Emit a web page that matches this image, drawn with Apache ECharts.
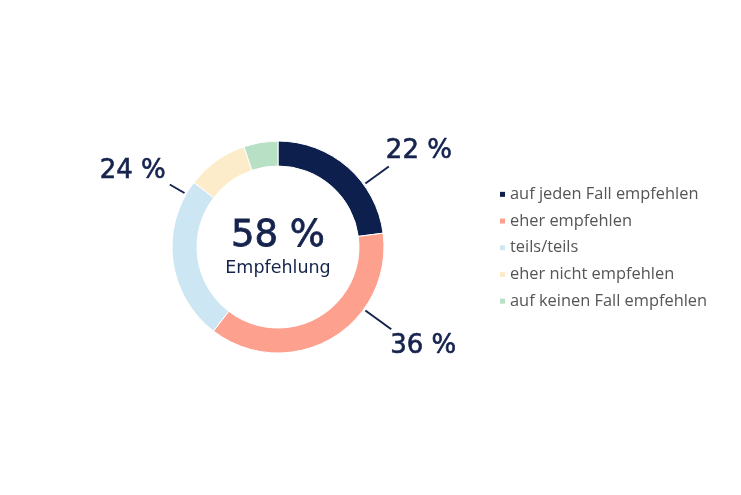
<!DOCTYPE html>
<html>
<head>
<meta charset="utf-8">
<script src="https://cdn.jsdelivr.net/npm/echarts@6/dist/echarts.min.js"></script>
<style>
  html, body {margin: 0; padding: 0; background: #fff;}
  #chart {width: 741px; height: 495px;}
</style>
</head>
<body>
<div id="chart"></div>
<script>
// Antworten (Empfehlung), Werte in %
var categories = ['auf jeden Fall empfehlen', 'eher empfehlen', 'teils/teils', 'eher nicht empfehlen', 'auf keinen Fall empfehlen'];
var values = [22, 36, 24, 9, 5];
var showLabel = [true, true, true, false, false];
var colors = ['#0d1f4c', '#fda08d', '#cce6f3', '#fdecc9', '#b8e0c5'];

var cx = 278, cy = 247, rOuter = 106, rInner = 81;
// Richtung der Beschriftungslinien (Grad im Uhrzeigersinn ab 12 Uhr) und Länge
var leader = [
    {angle: 54, len: 29, align: 'left', vAlign: 'bottom', dx: -3, dy: -2},
    {angle: 126, len: 32, align: 'left', vAlign: 'top', dx: -1, dy: 4},
    {angle: 300, len: 17, align: 'right', vAlign: 'bottom', dx: -4, dy: 0}
];
var textColor = '#15234d';
var font = 'DejaVu Sans';

var chart = echarts.init(document.getElementById('chart'));

var data = [];
for (var i = 0; i < categories.length; i++) {
    data.push({
        name: categories[i],
        value: values[i],
        itemStyle: {color: colors[i]},
        label: {show: showLabel[i]},
        labelLine: {show: showLabel[i]}
    });
}

var option = {
    animation: false,
    title: {
        text: (values[0] + values[1]) + ' %',
        subtext: 'Empfehlung',
        left: cx,
        top: 218,
        padding: 0,
        textAlign: 'center',
        itemGap: 4,
        textStyle: {fontFamily: font, fontSize: 37, fontWeight: 'normal', color: textColor,
            textBorderColor: textColor, textBorderWidth: 0.8},
        subtextStyle: {fontFamily: font, fontSize: 17.5, color: textColor}
    },
    legend: {
        orient: 'vertical',
        left: 495,
        top: 181,
        icon: 'rect',
        itemWidth: 5,
        itemHeight: 5,
        itemGap: 10,
        itemStyle: {borderWidth: 0},
        textStyle: {fontFamily: 'Open Sans', fontSize: 16.4, lineHeight: 16.7, color: '#555'},
        data: categories
    },
    series: [{
        type: 'pie',
        center: [cx, cy],
        radius: [rInner, rOuter],
        startAngle: 90,
        clockwise: true,
        avoidLabelOverlap: false,
        itemStyle: {borderColor: '#fff', borderWidth: 1},
        emphasis: {disabled: true},
        label: {
            formatter: '{c} %',
            fontFamily: font,
            fontSize: 26,
            fontWeight: 'normal',
            color: textColor,
            textBorderColor: textColor,
            textBorderWidth: 0.6
        },
        labelLine: {lineStyle: {color: textColor, width: 2}, length: 10, length2: 0},
        labelLayout: function (params) {
            var l = leader[params.dataIndex];
            if (!l) return {};
            var a = l.angle * Math.PI / 180;
            var sx = cx + (rOuter + 2) * Math.sin(a), sy = cy - (rOuter + 2) * Math.cos(a);
            var ex = cx + (rOuter + 2 + l.len) * Math.sin(a), ey = cy - (rOuter + 2 + l.len) * Math.cos(a);
            return {
                x: ex + l.dx,
                y: ey + l.dy,
                align: l.align,
                verticalAlign: l.vAlign,
                labelLinePoints: [[sx, sy], [ex, ey], [ex, ey]]
            };
        },
        data: data
    }]
};

chart.setOption(option);
</script>
</body>
</html>
